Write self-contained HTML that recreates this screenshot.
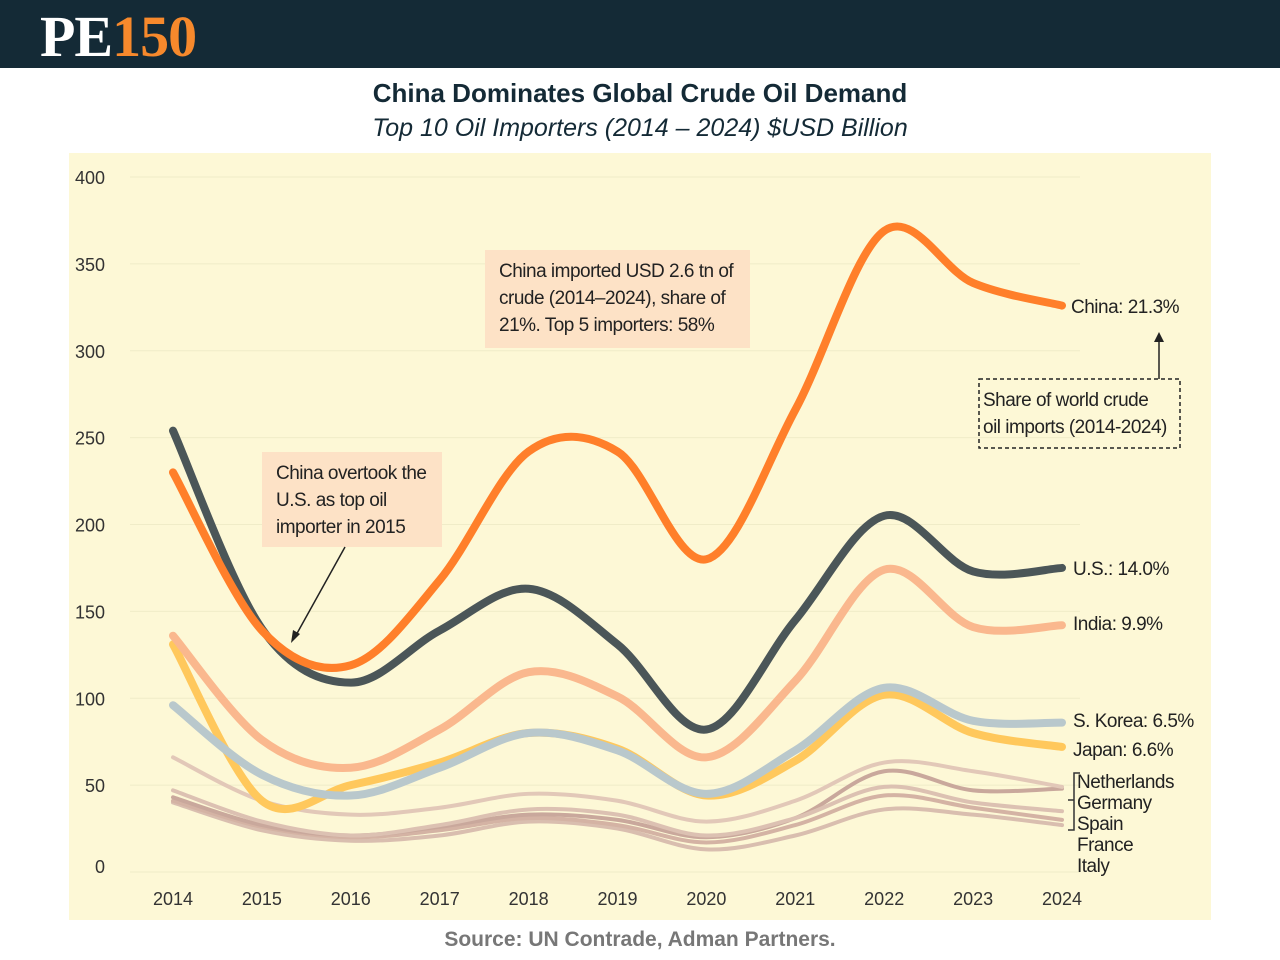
<!DOCTYPE html>
<html><head><meta charset="utf-8">
<style>
body{margin:0;width:1280px;height:960px;background:#fff;font-family:"Liberation Sans",sans-serif;overflow:hidden;position:relative}
#hdr{position:absolute;left:0;top:0;width:1280px;height:68px;background:#142a36}
#logo{position:absolute;left:40px;top:3px;font-family:"Liberation Serif",serif;font-weight:bold;font-size:58px;color:#fff;letter-spacing:-1px}
#logo span{color:#f7892c}
#title{position:absolute;top:78px;width:1280px;text-align:center;font-weight:bold;font-size:26px;color:#142a36}
#sub{position:absolute;top:114px;width:1280px;text-align:center;font-style:italic;font-size:25px;color:#142a36}
#src{position:absolute;top:928px;width:1280px;text-align:center;font-weight:bold;font-size:21px;color:#777}
svg{position:absolute;left:0;top:0}
</style></head><body>
<div id="hdr"><div id="logo">PE<span>150</span></div></div>
<div id="title">China Dominates Global Crude Oil Demand</div>
<div id="sub">Top 10 Oil Importers (2014 – 2024) $USD Billion</div>
<div id="src">Source: UN Contrade, Adman Partners.</div>
<svg id="chart" width="1280" height="960"></svg>
<script>
const years=[2014,2015,2016,2017,2018,2019,2020,2021,2022,2023,2024];
const yTicks=[0,50,100,150,200,250,300,350,400];
const china=[230,139,119,168,242,242,180,266,369,339,326];
const us=[254,140,109,139,163,131,82,145,205,173,175];
const india=[136,76,60,82,115,101,66,110,174,141,142];
const japan=[131,41,50,63,80,71,44,64,102,80,72];
const korea=[96,56,44,60,80,70,45,70,106,87,86];
const netherlands=[66,41,33,37,45,41,29,41,63,58,49];
const germany=[47,29,21,27,36,33,21,31,49,40,35];
const spain=[43,27,21,26,33,30,20,31,58,47,48];
const france=[41,26,20,24,31,27,17,27,44,37,30];
const italy=[40,24,18,21,29,25,13,21,36,33,27];
const ns="http://www.w3.org/2000/svg";
const svg=document.getElementById('chart');
const X=i=>173+i*88.9;
const Y=v=>872-v*1.7375;
function el(t,a,p){const e=document.createElementNS(ns,t);for(const k in a)e.setAttribute(k,a[k]);(p||svg).appendChild(e);return e;}
const bg=el('rect',{x:69,y:153,width:1142,height:767,fill:'#fdf8d6'});


yTicks.forEach(t=>{
  const g=el('line',{x1:130,x2:1080,y1:Y(t),y2:Y(t),stroke:'#f0ecc8','stroke-width':1});
  
  
  const tx=el('text',{x:105,y:(t===0?Y(t)+1:Y(t)+7),'text-anchor':'end','font-size':18,fill:'#333'});
  tx.textContent=t;
  
  
});
years.forEach((yr,i)=>{
  const tx=el('text',{x:X(i),y:905,'text-anchor':'middle','font-size':18,fill:'#333'});
  tx.textContent=yr;
  
  
});
function path(vals){
  const p=vals.map((v,i)=>[X(i),Y(v)]);
  let d='M'+p[0][0]+','+p[0][1];
  for(let i=0;i<p.length-1;i++){
    const p0=p[i-1]||p[i],p1=p[i],p2=p[i+1],p3=p[i+2]||p2;
    const c1=[p1[0]+(p2[0]-p0[0])/6,p1[1]+(p2[1]-p0[1])/6];
    const c2=[p2[0]-(p3[0]-p1[0])/6,p2[1]-(p3[1]-p1[1])/6];
    d+=` C${c1[0]},${c1[1]} ${c2[0]},${c2[1]} ${p2[0]},${p2[1]}`;
  }
  return d;
}
const series=[
 [italy,'#d9beaf',4,'line-italy'],[france,'#d4b3a4',4,'line-france'],[spain,'#c9a89c',4,'line-spain'],
 [germany,'#dcc1b2',4,'line-germany'],[netherlands,'#e2c8b8',4,'line-netherlands'],
 [japan,'#ffc85c',8,'line-japan'],[korea,'#b9c8cc',8,'line-s-korea'],[india,'#fab88e',8,'line-india'],
 [us,'#4b5658',8,'line-us'],[china,'#ff7f2a',8,'line-china']];
series.forEach(s=>{
  const e=el('path',{d:path(s[0]),fill:'none',stroke:s[1],'stroke-width':s[2],'stroke-linecap':'round'});
  
  
});
function lbl(x,y,t,name){const e=el('text',{x:x,y:y,'font-size':19,fill:'#222','letter-spacing':'-0.5'});e.textContent=t;
  
  }
lbl(1071,313,'China: 21.3%','label-china');
lbl(1073,575,'U.S.: 14.0%','label-us');
lbl(1073,630,'India: 9.9%','label-india');
lbl(1073,727,'S. Korea: 6.5%','label-s-korea');
lbl(1073,756,'Japan: 6.6%','label-japan');
lbl(1077,788,'Netherlands','label-netherlands');
lbl(1077,809,'Germany','label-germany');
lbl(1077,830,'Spain','label-spain');
lbl(1077,851,'France','label-france');
lbl(1077,872,'Italy','label-italy');
const br=el('path',{d:'M1080,773 L1074,773 L1074,830 L1068,830 M1074,800 L1068,800',fill:'none',stroke:'#333','stroke-width':1.5});


function box(x,y,w,h,lines,name,dash){
  const g=el('g',{});
  
  
  el('rect',dash?{x,y,width:w,height:h,fill:'none',stroke:'#222','stroke-dasharray':'4 3','stroke-width':1.5}:{x,y,width:w,height:h,fill:'#fde2c6'},g);
  lines.forEach((l,i)=>{const t=el('text',{x:x+(dash?4:14),y:y+27+i*27,'font-size':19,fill:'#222','letter-spacing':'-0.5'},g);t.textContent=l;});
}
box(485,250,265,98,['China imported USD 2.6 tn of','crude (2014–2024), share of','21%.  Top 5 importers: 58%'],'annotation-china-share');
box(262,452,180,95,['China overtook the','U.S. as top oil','importer in 2015'],'annotation-overtake');
box(979,379,201,69,['Share of world crude','oil imports (2014-2024)'],'annotation-share-legend',true);
const a1=el('line',{x1:345,y1:547,x2:295,y2:637,stroke:'#222','stroke-width':1.5});


const h1=el('path',{d:'M291,643 L293,630 L300,634 Z',fill:'#222'});


const a2=el('line',{x1:1159,y1:379,x2:1159,y2:340,stroke:'#222','stroke-width':1.5});


const h2=el('path',{d:'M1159,332 L1154,342 L1164,342 Z',fill:'#222'});


</script>
</body></html>
